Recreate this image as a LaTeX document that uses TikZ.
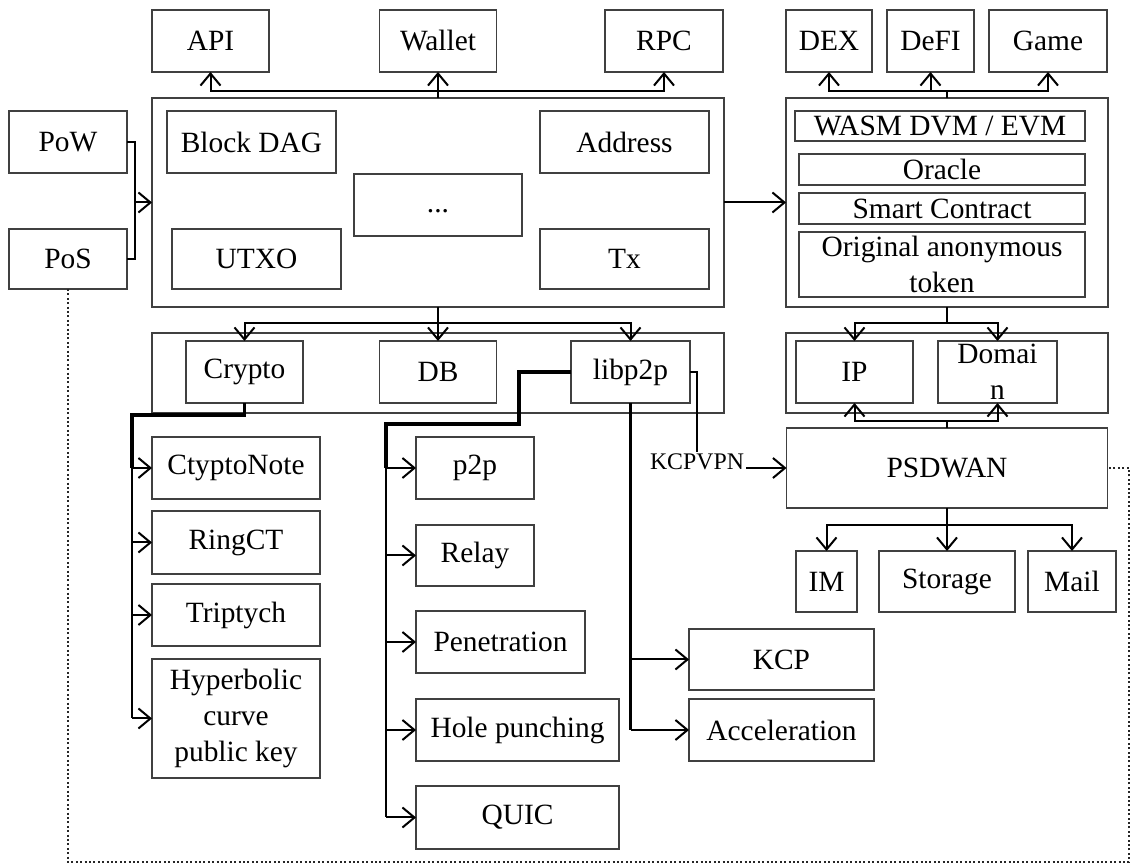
\documentclass[tikz,border=0pt]{standalone}
\usepackage{fontspec}
\setmainfont{Liberation Serif}
\usetikzlibrary{arrows.meta}

\begin{document}
\begin{tikzpicture}[
	x=0.5pt, y=-0.5pt,
	textbox/.style={draw=black!75, line width=0.7pt, inner sep=0, outer sep=0, align=center, font=\fontsize{14.7}{18}\selectfont},
	frame/.style={draw=black!75, line width=0.7pt, inner sep=0, outer sep=0},
	sz/.style 2 args={minimum width=#1*0.5pt, minimum height=#2*0.5pt},
	link/.style={line width=1pt},
	heavy/.style={line width=1.6pt},
	trunk/.style={line width=1.2pt},
	arr/.style={link, -{Straight Barb[length=6pt, width=10pt]}},
	dots/.style={line width=0.9pt, dash pattern=on 1pt off 1.2pt, black!85}
]
\useasboundingbox (0,0) rectangle (1131,865);

% top row
\node[textbox, sz={117}{62}] (api)    at (210.5,41) {API};
\node[textbox, sz={117}{62}] (wallet) at (438,41)   {Wallet};
\node[textbox, sz={118}{62}] (rpc)    at (664,41)   {RPC};
\node[textbox, sz={86}{62}]  (dex)    at (829,41)   {DEX};
\node[textbox, sz={87}{62}]  (defi)   at (930.5,41) {DeFI};
\node[textbox, sz={118}{62}] (game)   at (1048,41)  {Game};

% consensus
\node[textbox, sz={118}{62}] (pow) at (68,142) {PoW};
\node[textbox, sz={118}{60}] (pos) at (68,259) {PoS};

% core
\node[frame, sz={572}{209}] (core) at (438,202.5) {};
\node[textbox, sz={169}{62}] (blockdag) at (251.5,142) {Block DAG};
\node[textbox, sz={169}{60}] (utxo)     at (256.5,259) {UTXO};
\node[textbox, sz={168}{62}, text height=8pt] (more) at (438,205) {...};
\node[textbox, sz={169}{62}] (address)  at (624.5,142) {Address};
\node[textbox, sz={169}{60}] (tx)       at (624.5,259) {Tx};

% base modules
\node[frame, sz={572}{80}] (base) at (438,373) {};
\node[textbox, sz={117}{62}] (crypto) at (244.5,372) {Crypto};
\node[textbox, sz={117}{62}] (db)     at (438,372)   {DB};
\node[textbox, sz={119}{62}] (libp2p) at (630.5,372) {libp2p};

% virtual machine
\node[frame, sz={322}{209}] (vmbox) at (947,202.5) {};
\node[textbox, sz={290}{30}] (wasm)   at (940,126)   {WASM DVM / EVM};
\node[textbox, sz={286}{31}] (oracle) at (942,169.5) {Oracle};
\node[textbox, sz={286}{31}] (smart)  at (942,208.5) {Smart Contract};
\node[textbox, sz={286}{65}] (token)  at (942,264.5) {Original anonymous\\token};

% network
\node[frame, sz={322}{80}] (net) at (947,373) {};
\node[textbox, sz={117}{62}] (ip)     at (854.5,372) {IP};
\node[textbox, sz={119}{62}] (domain) at (997.5,372) {Domai\\n};
\node[textbox, sz={321}{80}] (psdwan) at (947,468)   {PSDWAN};
\node[textbox, sz={61}{61}]  (im)      at (826.5,581.5) {IM};
\node[textbox, sz={136}{61}] (storage) at (947,581.5)   {Storage};
\node[textbox, sz={88}{61}]  (mail)    at (1072,581.5)  {Mail};

% crypto children
\node[textbox, sz={168}{62}]  (cnote)  at (236,468)   {CtyptoNote};
\node[textbox, sz={168}{63}]  (ringct) at (236,542.5) {RingCT};
\node[textbox, sz={168}{62}]  (tript)  at (236,615)   {Triptych};
\node[textbox, sz={168}{119}] (hyper)  at (236,718.5) {Hyperbolic\\curve\\public key};

% libp2p children
\node[textbox, sz={118}{62}] (p2p)   at (475,468)   {p2p};
\node[textbox, sz={118}{61}] (relay) at (475,555.5) {Relay};
\node[textbox, sz={169}{62}] (penet) at (500.5,642) {Penetration};
\node[textbox, sz={203}{62}] (hole)  at (517.5,730) {Hole punching};
\node[textbox, sz={203}{63}] (quic)  at (517.5,817.5) {QUIC};
\node[textbox, sz={185}{61}] (kcp)   at (781.5,659.5) {KCP};
\node[textbox, sz={185}{62}] (accel) at (781.5,730) {Acceleration};

\node[font=\fontsize{11.9}{14}\selectfont, inner sep=1pt] (kcpvpn) at (697,462) {KCPVPN};

% bus points
\coordinate (topbus)  at (438,91);
\coordinate (vmtop)   at (947,91);
\coordinate (consj)   at (135,202.5);
\coordinate (corebus) at (438,323);
\coordinate (vmbot)   at (947,323);
\coordinate (psup)    at (947,421);
\coordinate (appbus)  at (947,525);
\coordinate (ctrunk)  at (132,415);
\coordinate (ljog)    at (519,424);
\coordinate (ltrunk)  at (386,424);
\coordinate (loopc)   at (1129,862);

\draw[arr] (core.north) -- (wallet.south);
\draw[arr] (topbus) -| (api.south);
\draw[arr] (topbus) -| (rpc.south);

\draw[link] (pow.east) -| (consj) |- (pos.east);
\draw[arr]  (consj) -- (core.west);
\draw[arr]  (core.east) -- (vmbox.west);

\draw[link] (vmbox.north) -- (vmtop);
\foreach \n in {dex,defi,game} \draw[arr] (vmtop) -| (\n.south);

\draw[arr] (core.south) -- (db.north);
\draw[arr] (corebus) -| (crypto.north);
\draw[arr] (corebus) -| (libp2p.north);

\draw[link] (vmbox.south) -- (vmbot);
\foreach \n in {ip,domain} \draw[arr] (vmbot) -| (\n.north);
\draw[link] (psdwan.north) -- (psup);
\foreach \n in {ip,domain} \draw[arr] (psup) -| (\n.south);

\draw[arr] (psdwan.south) -- (storage.north);
\foreach \n in {im,mail} \draw[arr] (appbus) -| (\n.north);

% crypto tree
\draw[heavy] (crypto.south) |- (ctrunk) -- (ctrunk |- cnote.west);
\draw[trunk] (ctrunk |- cnote.west) -- (ctrunk |- hyper.west);
\foreach \n in {cnote,ringct,tript,hyper} \draw[arr] (ctrunk |- \n.west) -- (\n.west);

% libp2p tree
\draw[heavy] (libp2p.west) -| (ljog) -- (ltrunk) -- (ltrunk |- p2p.west);
\draw[trunk] (ltrunk |- p2p.west) -- (ltrunk |- quic.west);
\foreach \n in {p2p,relay,penet,hole,quic} \draw[arr] (ltrunk |- \n.west) -- (\n.west);

\draw[trunk] (libp2p.south) -- (libp2p.south |- accel.west);
\foreach \n in {kcp,accel} \draw[arr] (libp2p.south |- \n.west) -- (\n.west);

\draw[link] (libp2p.east) -| (kcpvpn.north);
\draw[arr]  (kcpvpn.east |- psdwan.west) -- (psdwan.west);

\draw[dots] (pos.south) |- (loopc) |- (psdwan.east);
\end{tikzpicture}
\end{document}
